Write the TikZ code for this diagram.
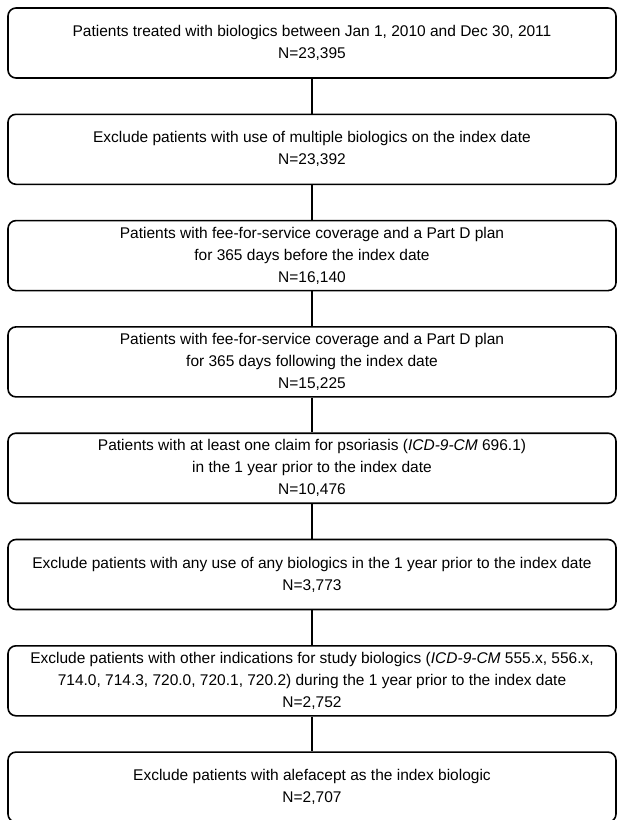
\documentclass[tikz,border=0pt]{standalone}
\usepackage{fontspec}
\setmainfont{Liberation Sans}
\usepackage{tikz}
\usetikzlibrary{positioning}

\begin{document}
\begin{tikzpicture}[
	stage/.style={draw, line width=1.6pt, rounded corners=8pt, minimum width=608pt, minimum height=70pt, inner sep=2pt, align=center, font=\fontsize{15.5}{22}\selectfont},
	link/.style={line width=2.6pt},
	node distance=34.7pt]
	\useasboundingbox (0, 0) rectangle (624pt, -820pt);
	\node[stage] (treated) at (312pt, -43pt) {Patients treated with biologics between Jan 1, 2010 and Dec 30, 2011\\N=23,395};
	\node[stage, below=of treated] (multi) {Exclude patients with use of multiple biologics on the index date\\N=23,392};
	\node[stage, below=of multi] (before) {Patients with fee-for-service coverage and a Part D plan\\for 365 days before the index date\\N=16,140};
	\node[stage, below=of before] (after) {Patients with fee-for-service coverage and a Part D plan\\for 365 days following the index date\\N=15,225};
	\node[stage, below=of after] (psor) {Patients with at least one claim for psoriasis (\textit{ICD-9-CM} 696.1)\\in the 1 year prior to the index date\\N=10,476};
	\node[stage, below=of psor] (prior) {Exclude patients with any use of any biologics in the 1 year prior to the index date\\N=3,773};
	\node[stage, below=of prior] (other) {Exclude patients with other indications for study biologics (\textit{ICD-9-CM} 555.x, 556.x,\\714.0, 714.3, 720.0, 720.1, 720.2) during the 1 year prior to the index date\\N=2,752};
	\node[stage, below=of other] (alef) {Exclude patients with alefacept as the index biologic\\N=2,707};
	\draw[link] (treated) -- (multi);
	\draw[link] (multi) -- (before);
	\draw[link] (before) -- (after);
	\draw[link] (after) -- (psor);
	\draw[link] (psor) -- (prior);
	\draw[link] (prior) -- (other);
	\draw[link] (other) -- (alef);
\end{tikzpicture}
\end{document}
